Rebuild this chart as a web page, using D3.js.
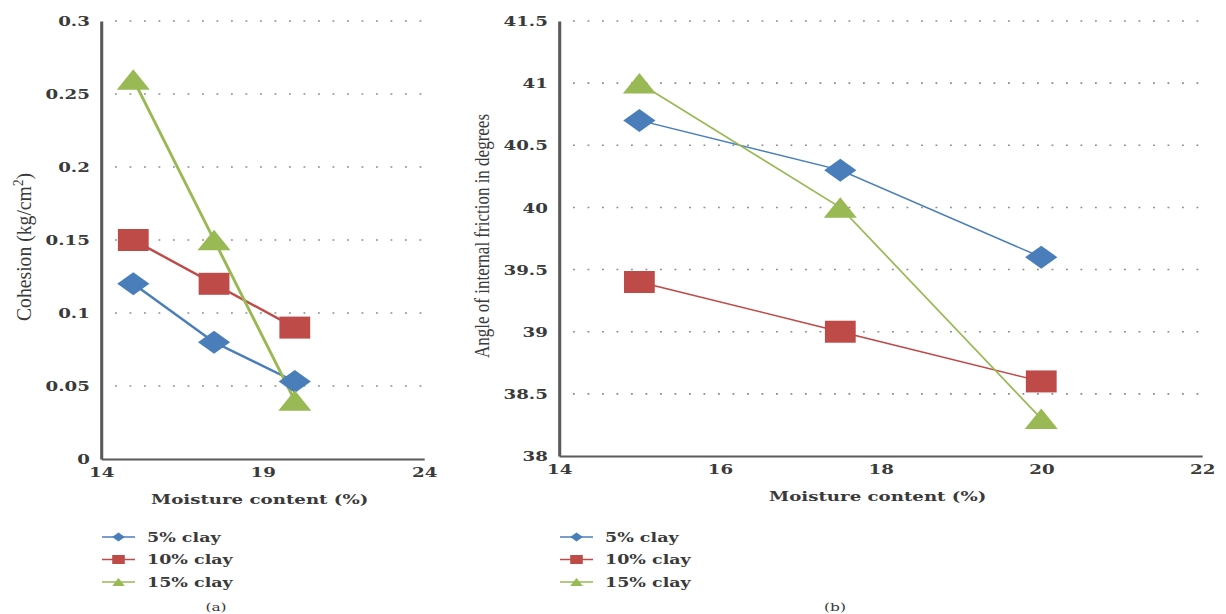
<!DOCTYPE html>
<html>
<head>
<meta charset="utf-8">
<script src="https://cdn.jsdelivr.net/npm/d3@7"></script>
<style>
  body { margin: 0; background: #fff; }
  svg { display: block; }
</style>
</head>
<body>
<div id="chart"></div>
<script>
// data
var moisture = [15, 17.5, 20];
var seriesNames = ["5% clay", "10% clay", "15% clay"];
var seriesColors = ["#4A7EBB", "#BE4B48", "#98B954"];
var seriesShapes = ["diamond", "square", "triangle"];

var cohesion5 = [0.12, 0.08, 0.053];
var cohesion10 = [0.15, 0.12, 0.09];
var cohesion15 = [0.26, 0.15, 0.04];

var friction5 = [40.7, 40.3, 39.6];
var friction10 = [39.4, 39.0, 38.6];
var friction15 = [41.0, 40.0, 38.3];

var cohesionTicksY = [0, 0.05, 0.1, 0.15, 0.2, 0.25, 0.3];
var cohesionTicksX = [14, 19, 24];
var frictionTicksY = [38, 38.5, 39, 39.5, 40, 40.5, 41, 41.5];
var frictionTicksX = [14, 16, 18, 20, 22];

// the source picture is stretched sideways, so draw in a squeezed frame
var SX = 1.4;
var W = 1226, H = 614;

var svg = d3.select("#chart").append("svg")
    .attr("width", W).attr("height", H);
var root = svg.append("g").attr("transform", "scale(" + SX + ",1)");

var serif = "'DejaVu Serif', serif";
var textCol = "#3a3a3a";

function marker(shape, s) {
    // s = half size in frame units
    if (shape == "diamond") {
        return "M0," + (-s) + "L" + s + ",0L0," + s + "L" + (-s) + ",0Z";
    }
    if (shape == "square") {
        return "M" + (-s) + "," + (-s) + "H" + s + "V" + s + "H" + (-s) + "Z";
    }
    var h = s * 0.87;
    return "M0," + (-h) + "L" + s + "," + h + "L" + (-s) + "," + h + "Z";
}

var fmt = function (d) { return String(+d.toFixed(2)); };

var panel = function (opt) {
    var g = root.append("g");
    var x = d3.scaleLinear().domain(opt.xDomain).range([opt.x0 / SX, opt.x1 / SX]);
    var y = d3.scaleLinear().domain(opt.yDomain).range([opt.y0, opt.y1]);

    // dotted gridlines
    g.append("g").selectAll("line")
        .data(opt.yTicks.slice(1))
        .enter().append("line")
        .attr("x1", opt.gx0 / SX).attr("x2", opt.x1 / SX + 1)
        .attr("y1", function (d) { return y(d); })
        .attr("y2", function (d) { return y(d); })
        .attr("stroke", "#8a8a8a")
        .attr("stroke-width", 1.6)
        .attr("stroke-dasharray", (1.8 / SX) + "," + (12.7 / SX));

    // axes
    var xAxis = g.append("g")
        .attr("transform", "translate(0," + opt.y0 + ")")
        .call(d3.axisBottom(x).tickValues(opt.xTicks).tickSize(0).tickPadding(9).tickFormat(fmt));
    var yAxis = g.append("g")
        .attr("transform", "translate(" + (opt.x0 / SX) + ",0)")
        .call(d3.axisLeft(y).tickValues(opt.yTicks).tickSize(0).tickPadding(8).tickFormat(fmt));

    [xAxis, yAxis].forEach(function (a) {
        a.select(".domain").attr("stroke", "#5a5a5a").attr("stroke-width", 2.2);
        a.selectAll("text")
            .attr("font-family", serif)
            .attr("font-weight", "bold")
            .attr("font-size", 13)
            .attr("fill", textCol);
    });
    yAxis.selectAll("text").attr("dy", "0.36em");

    // x title
    g.append("text")
        .attr("x", (opt.x0 + opt.x1) / 2 / SX - 2)
        .attr("y", opt.y0 + 45)
        .attr("text-anchor", "middle")
        .attr("font-family", serif).attr("font-weight", "bold")
        .attr("font-size", 13).attr("fill", textCol)
        .text("Moisture content (%)");

    // y title
    var yt = g.append("text")
        .attr("transform", "translate(" + (opt.ytX / SX) + "," + opt.ytY + ") rotate(-90)")
        .attr("text-anchor", "middle")
        .attr("font-family", "'Liberation Serif', serif")
        .attr("font-size", 15).attr("fill", textCol)
        .attr("textLength", opt.ytLen)
        .attr("lengthAdjust", "spacingAndGlyphs");
    opt.yTitle.forEach(function (part) {
        yt.append("tspan")
            .attr("baseline-shift", part.sup ? "super" : null)
            .attr("font-size", part.sup ? 10 : null)
            .text(part.t);
    });

    // series
    var line = d3.line()
        .x(function (d, i) { return x(moisture[i]); })
        .y(function (d) { return y(d); });

    opt.series.forEach(function (vals, k) {
        g.append("path")
            .attr("d", line(vals))
            .attr("fill", "none")
            .attr("stroke", seriesColors[k])
            .attr("stroke-width", opt.lw);
    });
    opt.series.forEach(function (vals, k) {
        g.append("g").selectAll("path")
            .data(vals)
            .enter().append("path")
            .attr("transform", function (d, i) {
                return "translate(" + x(moisture[i]) + "," + y(d) + ")";
            })
            .attr("d", marker(seriesShapes[k], seriesShapes[k] == "square" ? 11 : (seriesShapes[k] == "diamond" ? 11.5 : 11.8)))
            .attr("fill", seriesColors[k]);
    });

    // legend
    var leg = g.append("g");
    seriesNames.forEach(function (name, k) {
        var ly = opt.legY + k * 22.5;
        leg.append("line")
            .attr("x1", opt.legX / SX).attr("x2", (opt.legX + 33) / SX)
            .attr("y1", ly).attr("y2", ly)
            .attr("stroke", seriesColors[k]).attr("stroke-width", 1.6);
        leg.append("path")
            .attr("transform", "translate(" + ((opt.legX + 16.5) / SX) + "," + ly + ")")
            .attr("d", marker(seriesShapes[k], 4.5))
            .attr("fill", seriesColors[k]);
        leg.append("text")
            .attr("x", (opt.legX + 45) / SX)
            .attr("y", ly + 5)
            .attr("font-family", serif).attr("font-weight", "bold")
            .attr("font-size", 12.5).attr("fill", textCol)
            .text(name);
    });

    // panel letter at the foot
    g.append("text")
        .attr("x", opt.tagX / SX).attr("y", 611)
        .attr("text-anchor", "middle")
        .attr("font-family", serif).attr("font-size", 11).attr("fill", textCol)
        .text(opt.tag);
};

panel({
    xDomain: [14, 24], yDomain: [0, 0.3],
    x0: 101, x1: 424, y0: 459, y1: 21, gx0: 115,
    xTicks: cohesionTicksX, yTicks: cohesionTicksY,
    series: [cohesion5, cohesion10, cohesion15],
    lw: 2.2,
    yTitle: [{t: "Cohesion (kg/cm"}, {t: "2", sup: true}, {t: ")"}],
    ytX: 31, ytY: 247, ytLen: 148,
    legX: 102, legY: 537, tag: "(a)", tagX: 216
});

panel({
    xDomain: [14, 22], yDomain: [38, 41.5],
    x0: 559, x1: 1202, y0: 456, y1: 21, gx0: 573,
    xTicks: frictionTicksX, yTicks: frictionTicksY,
    series: [friction5, friction10, friction15],
    lw: 1.4,
    yTitle: [{t: "Angle of internal friction in degrees"}],
    ytX: 489, ytY: 236, ytLen: 244,
    legX: 560, legY: 537, tag: "(b)", tagX: 835
});
</script>
</body>
</html>
